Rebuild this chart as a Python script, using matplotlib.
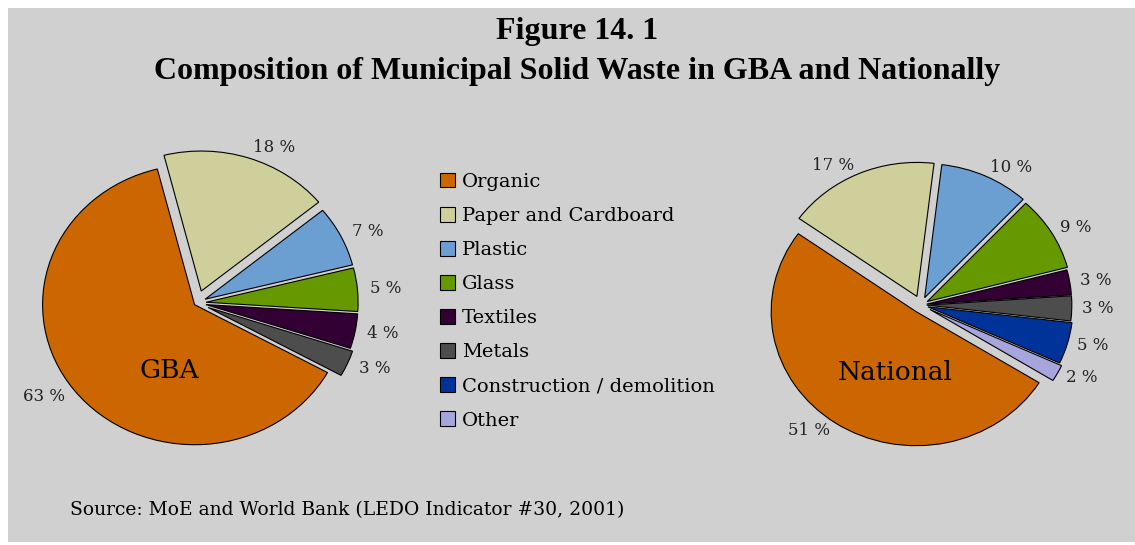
import matplotlib.pyplot as plt
from matplotlib.patches import Rectangle

# Data
categories = ["Organic", "Paper and Cardboard", "Plastic", "Glass", "Textiles",
              "Metals", "Construction / demolition", "Other"]
colors = ["#CC6600", "#CFCF9C", "#6B9FD1", "#669900", "#330033",
          "#4D4D4D", "#003399", "#A6A6DC"]

gba_values = [63, 18, 7, 5, 4, 3]
gba_explode = [0.02, 0.09, 0.06, 0.06, 0.06, 0.08]

nat_values = [51, 17, 10, 9, 3, 3, 5, 2]
nat_explode = [0.06, 0.07, 0.06, 0.05, 0.04, 0.04, 0.05, 0.07]

plt.rcParams["font.family"] = ["DejaVu Serif"]

W, H = 1135, 545
fig = plt.figure(figsize=(W / 100, H / 100), dpi=100)
fig.patch.set_facecolor("white")

# gray panel
fig.add_artist(Rectangle((8 / W, 3 / H), 1 - 8 / W, 1 - 11 / H,
                         transform=fig.transFigure, facecolor="#D0D0D0",
                         edgecolor="none", zorder=0))

# Titles
title_font = ["Liberation Serif", "DejaVu Serif"]
fig.text(577 / W, 1 - 31 / H, "Figure 14. 1", ha="center", va="center",
         fontsize=23, fontweight="bold", family=title_font)
fig.text(577 / W, 1 - 71 / H, "Composition of Municipal Solid Waste in GBA and Nationally",
         ha="center", va="center", fontsize=23, fontweight="bold", family=title_font)


def pie_axes(cx, cy, rx, ry):
    # cx, cy in pixels from top-left
    w, h = 2.6 * rx, 2.6 * ry
    ax = fig.add_axes([(cx - w / 2) / W, (H - cy - h / 2) / H, w / W, h / H])
    return ax


def draw_pie(ax, values, explode, startangle, name, ldist, name_y):
    wedges, texts = ax.pie(
        values, explode=explode, colors=colors[:len(values)],
        labels=[f"{v} %" for v in values], labeldistance=ldist,
        startangle=startangle, counterclock=False,
        wedgeprops=dict(edgecolor="black", linewidth=0.8),
        textprops=dict(fontsize=12, color="#222222"))
    ax.set_aspect("auto")
    ax.set_xlim(-1.3, 1.3)
    ax.set_ylim(-1.3, 1.3)
    ax.axis("off")
    ax.text(-0.18, name_y, name, ha="center", va="center", fontsize=19)
    return wedges


ax1 = pie_axes(197, 303, 152, 140)
draw_pie(ax1, gba_values, gba_explode, -29, "GBA", 1.08, -0.48)

ax2 = pie_axes(921, 305, 145, 134)
wedges = draw_pie(ax2, nat_values, nat_explode, -32, "National", 1.07, -0.5)

# Legend
leg = fig.legend(wedges, categories, loc="upper left",
                 bbox_to_anchor=(422 / W, 1 - 155 / H), frameon=False,
                 fontsize=14, handlelength=0.8, handleheight=0.8,
                 handletextpad=0.35, labelspacing=0.82)

# Source
fig.text(70 / W, 1 - 510 / H, "Source: MoE and World Bank (LEDO Indicator #30, 2001)",
         ha="left", va="center", fontsize=13.5)

plt.savefig("out.png", dpi=100)
